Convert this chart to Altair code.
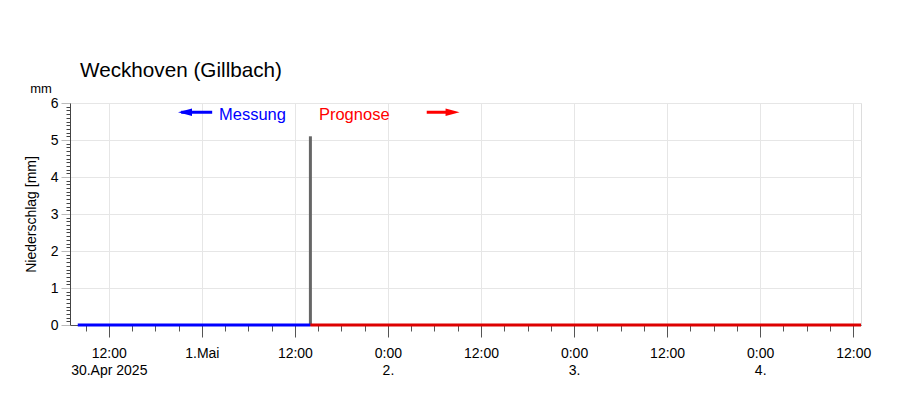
import altair as alt
import pandas as pd

# ---------------- data ----------------
messung_time = ["2025-04-30T08:00", "2025-05-01T14:00"]
messung_mm = [0.0, 0.0]

prognose_time = ["2025-05-01T14:00", "2025-05-04T13:00"]
prognose_mm = [0.0, 0.0]

bar_time = ["2025-05-01T14:00"]
bar_mm = [5.1]

# axis
x_domain = ["2025-04-30T07:00", "2025-05-04T13:00"]
major_ticks = ["2025-04-30T12:00", "2025-05-01T00:00", "2025-05-01T12:00",
               "2025-05-02T00:00", "2025-05-02T12:00", "2025-05-03T00:00",
               "2025-05-03T12:00", "2025-05-04T00:00", "2025-05-04T12:00"]
major_label_1 = ["12:00", "1.Mai", "12:00", "0:00", "12:00", "0:00", "12:00", "0:00", "12:00"]
major_label_2 = ["30.Apr 2025", "", "", "2.", "", "3.", "", "4.", ""]
y_max = 6

# annotations
ann_text = ["Messung", "Prognose"]
ann_time = ["2025-05-01T02:13", "2025-05-01T15:06"]
ann_y = [5.68, 5.68]
ann_color = ["#0000ff", "#ff0000"]

arrow_start = ["2025-04-30T21:20", "2025-05-02T05:00"]
arrow_end = ["2025-05-01T01:20", "2025-05-02T07:50"]
arrow_head = ["2025-04-30T21:50", "2025-05-02T08:20"]
arrow_y = [5.75, 5.75]
arrow_color = ["#0000ff", "#ff0000"]

FONT = "Liberation Sans"

# ---------------- build ----------------
def dt(s):
    t = pd.Timestamp(s)
    return alt.DateTime(year=t.year, month=t.month, date=t.day, hours=t.hour, minutes=t.minute)

tick_vals = [dt(t) for t in pd.date_range("2025-04-30T09:00", "2025-05-04T12:00", freq="3h")]

lookup_parts = []
for t, l1, l2 in zip(major_ticks, major_label_1, major_label_2):
    key = pd.Timestamp(t).strftime("%Y-%m-%dT%H:%M")
    if l2:
        lookup_parts.append(f"'{key}': ['{l1}', '{l2}']")
    else:
        lookup_parts.append(f"'{key}': '{l1}'")
x_label_expr = "({" + ", ".join(lookup_parts) + "})[timeFormat(datum.value, '%Y-%m-%dT%H:%M')] || ''"

major_x = "hours(datum.value) % 12 == 0"
x_axis = alt.Axis(
    values=tick_vals,
    labelExpr=x_label_expr,
    labelOverlap=False,
    labelFlush=False,
    labelFont=FONT, labelFontSize=14, labelColor="#000000",
    labelLineHeight=17, labelPadding=9,
    tickSize={"condition": {"test": major_x, "value": 12}, "value": 6},
    tickColor="#555555",
    domainColor="#555555",
    grid=True,
    gridColor="#e6e6e6",
    gridOpacity={"condition": {"test": major_x, "value": 1}, "value": 0},
    title=None,
)

y_vals = [i / 10 for i in range(y_max * 10 + 1)]
major_y = "abs(datum.value - round(datum.value)) < 0.01"
y_axis = alt.Axis(
    values=y_vals,
    labelExpr=f"{major_y} ? round(datum.value) + '' : ''",
    labelOverlap=False,
    labelFlush=False,
    labelFont=FONT, labelFontSize=14, labelColor="#000000", labelPadding=3,
    tickSize={"condition": {"test": major_y, "value": 9}, "value": 4},
    tickColor={"condition": {"test": major_y, "value": "#bbbbbb"}, "value": "#444444"},
    domainColor="#444444",
    grid=True,
    gridColor="#e6e6e6",
    gridOpacity={"condition": {"test": major_y, "value": 1}, "value": 0},
    title="Niederschlag [mm]",
    titleFont=FONT, titleFontSize=14, titleFontWeight="normal", titleColor="#000000",
    titlePadding=12,
)

x_scale = alt.Scale(domain=[dt(x_domain[0]), dt(x_domain[1])], padding=0, nice=False)
y_scale = alt.Scale(domain=[0, y_max], nice=False, padding=0)

def X(field="t"):
    return alt.X(f"{field}:T", scale=x_scale, axis=x_axis)

def Y(field="v"):
    return alt.Y(f"{field}:Q", scale=y_scale, axis=y_axis)

df_mess = pd.DataFrame({"t": messung_time, "v": messung_mm})
df_prog = pd.DataFrame({"t": prognose_time, "v": prognose_mm})
df_bar = pd.DataFrame({"t": bar_time, "v": bar_mm})
df_ann = pd.DataFrame({"t": ann_time, "v": ann_y, "txt": ann_text, "c": ann_color})
df_arr = pd.DataFrame({"t": arrow_start, "t2": arrow_end, "th": arrow_head,
                       "v": arrow_y, "c": arrow_color,
                       "shape": ["M-1,0L1,-0.55L1,0.55Z", "M1,0L-1,-0.55L-1,0.55Z"]})

bar = alt.Chart(df_bar).mark_bar(size=3, color="#666666").encode(x=X(), y=Y())

line_mess = alt.Chart(df_mess).mark_line(color="#0000ff", strokeWidth=3).encode(x=X(), y=Y())
line_prog = alt.Chart(df_prog).mark_line(color="#dd0000", strokeWidth=3).encode(x=X(), y=Y())

ann = alt.Chart(df_ann).mark_text(align="left", baseline="middle", font=FONT, fontSize=16.5).encode(
    x=X(), y=Y(), text="txt:N", color=alt.Color("c:N", scale=None))

arr_line = alt.Chart(df_arr).mark_rule(strokeWidth=3).encode(
    x=X(), x2="t2:T", y=Y(), color=alt.Color("c:N", scale=None))
arr_head = alt.Chart(df_arr).mark_point(filled=True, opacity=1, size=196).encode(
    x=alt.X("th:T", scale=x_scale, axis=x_axis), y=Y(),
    color=alt.Color("c:N", scale=None), shape=alt.Shape("shape:N", scale=None))

mm_label = alt.Chart(pd.DataFrame({"t": [x_domain[0]], "v": [y_max], "txt": ["mm"]})).mark_text(
    align="center", baseline="alphabetic", font=FONT, fontSize=13, dx=-29, dy=-10, color="#000000"
).encode(x=X(), y=Y(), text="txt:N")

chart = alt.layer(bar, line_mess, line_prog, ann, arr_line, arr_head, mm_label).properties(
    width=791, height=222,
    title=alt.TitleParams("Weckhoven (Gillbach)", anchor="start", frame="group",
                          font=FONT, fontSize=20.7, fontWeight="normal", color="#000000",
                          dx=10, offset=1),
    autosize=alt.AutoSizeParams(type="none"),
    padding={"left": 62, "top": 95, "right": 20, "bottom": 60},
).configure_view(stroke=None).configure(background="#ffffff")

chart.save("out.html", embed_options={"renderer": "svg", "actions": False})
